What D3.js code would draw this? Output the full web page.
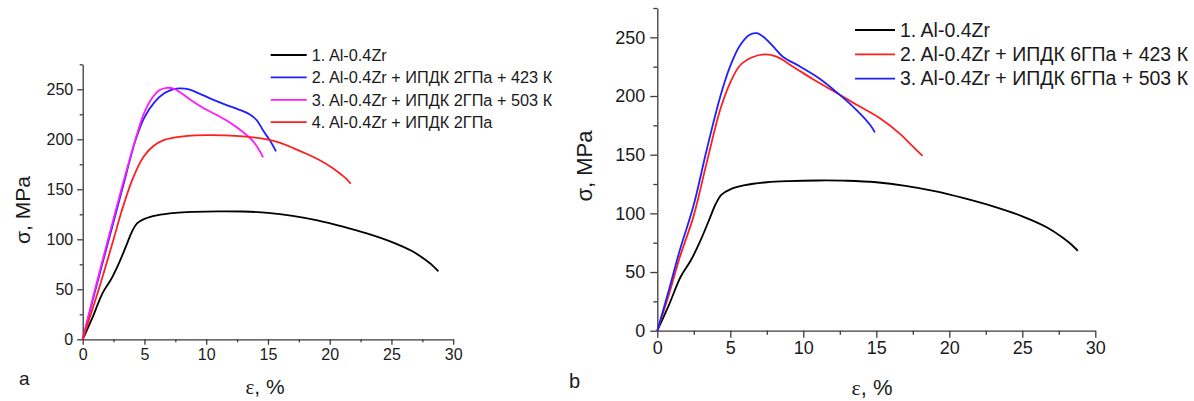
<!DOCTYPE html>
<html>
<head>
<meta charset="utf-8">
<script src="https://cdn.jsdelivr.net/npm/d3@7"></script>
<style>
  html, body { margin: 0; padding: 0; background: #fff; }
  svg { display: block; font-family: Arial, "Liberation Sans", sans-serif; }
</style>
</head>
<body>
<svg id="chart" width="1194" height="401"></svg>
<script>
// Stress–strain curves, ε (%) vs σ (MPa)

// Panel a
const aLabels = ["1. Al-0.4Zr", "2. Al-0.4Zr + ИПДК 2ГПа + 423 К", "3. Al-0.4Zr + ИПДК 2ГПа + 503 К", "4. Al-0.4Zr + ИПДК 2ГПа"];
const aBase = [[0,0],[0.8,22],[1.6,46],[2.3,60],[3.0,78],[3.6,96],[4.0,108],[4.4,116],[5.0,120.5],[6.0,124],[7.5,126.5],[9.0,127.5],[11.0,128],[13.0,127.8],[15.0,126.5],[17.0,123.5],[19.0,119],[21.0,113],[23.0,106],[25.0,97.5],[26.7,88],[27.8,79],[28.4,73],[28.8,68]];
const a423 = [[0,0],[1.0,48],[2.1,99],[3.2,150],[4.3,200],[5.0,222],[5.8,237],[6.6,246],[7.3,250],[7.9,251],[8.6,250],[9.4,246],[10.3,241],[11.5,235],[12.6,230],[13.5,225],[14.1,219],[14.6,209],[15.2,198],[15.65,188]];
const a503 = [[0,0],[1.0,50],[2.1,102],[3.2,153],[4.3,201],[4.9,224],[5.5,239],[6.2,249],[6.8,251.5],[7.4,250.5],[8.0,246],[8.9,238],[9.8,231],[10.9,224],[12.0,216],[13.0,207],[13.8,198],[14.3,189],[14.6,182]];
const aHpt = [[0,0],[1.3,50],[2.5,100],[3.2,130],[4.0,159],[4.9,182],[5.7,193],[6.5,199],[7.5,202],[8.5,203.5],[10.0,204.2],[11.5,204],[13.0,203],[14.9,200],[16.0,196.5],[17.1,191],[18.2,185],[19.2,179],[20.2,171.5],[20.9,165],[21.4,160],[21.7,155.5]];

// Panel b
const bLabels = ["1. Al-0.4Zr", "2. Al-0.4Zr + ИПДК 6ГПа + 423 К", "3. Al-0.4Zr + ИПДК 6ГПа + 503 К"];
const bBase = aBase;
const b423 = [[0,0],[0.8,31],[1.55,63],[2.47,97],[3.38,143],[4.3,188],[4.98,211],[5.66,226],[6.5,233],[7.37,235.5],[8.17,233.5],[9.3,225],[10.7,214],[12.5,201],[13.65,192.5],[15.25,181],[16.6,168],[17.5,157],[18.17,149]];
const b503 = [[0,0],[0.8,35],[1.55,69],[2.47,106],[3.38,154],[4.3,199],[4.98,225],[5.66,243],[6.3,252],[6.8,253.5],[7.26,250.5],[7.95,242],[8.6,233.5],[9.8,225],[11.1,215],[12.5,201],[13.65,188],[14.57,175.5],[14.9,169]];

const xTicks = [0, 5, 10, 15, 20, 25, 30];
const xMinor = [2.5, 7.5, 12.5, 17.5, 22.5, 27.5];
const yTicks = [0, 50, 100, 150, 200, 250];
const yMinor = [25, 75, 125, 175, 225, 275];
const yTitle = "σ, MPa";

const svg = d3.select("#chart");

function panel(opt) {
  const x = d3.scaleLinear().domain([0, 30]).range([opt.x0, opt.x1]);
  const y = d3.scaleLinear().domain([0, 275]).range([opt.y0, opt.y1]);
  const g = svg.append("g");
  const axisColor = "#3a3a3a";

  // minor ticks
  g.append("g").attr("transform", `translate(0,${opt.y0})`)
    .call(d3.axisBottom(x).tickValues(xMinor).tickSize(opt.minor).tickFormat(""))
    .call(s => s.select(".domain").remove());
  g.append("g").attr("transform", `translate(${opt.x0},0)`)
    .call(d3.axisLeft(y).tickValues(yMinor).tickSize(opt.minor).tickFormat(""))
    .call(s => s.select(".domain").remove());

  // major ticks and labels
  const xa = g.append("g").attr("transform", `translate(0,${opt.y0})`)
    .call(d3.axisBottom(x).tickValues(xTicks).tickSize(opt.major).tickSizeOuter(0).tickPadding(opt.xPad));
  const ya = g.append("g").attr("transform", `translate(${opt.x0},0)`)
    .call(d3.axisLeft(y).tickValues(yTicks).tickSize(opt.major).tickSizeOuter(0).tickPadding(opt.yPad));
  [xa, ya].forEach(a => {
    a.selectAll("text").attr("font-size", opt.fs).attr("fill", "#1a1a1a")
      .attr("font-family", "Arial, 'Liberation Sans', sans-serif");
  });
  g.selectAll(".domain, .tick line").attr("stroke", axisColor).attr("stroke-width", 1.3);

  // curves
  const line = d3.line().x(d => x(d[0])).y(d => y(d[1])).curve(d3.curveCatmullRom.alpha(0.5));
  opt.series.forEach(s => {
    g.append("path").datum(s.data).attr("d", line)
      .attr("fill", "none").attr("stroke", s.color).attr("stroke-width", 1.8)
      .attr("stroke-linejoin", "round");
  });

  // legend
  const lg = g.append("g");
  opt.series.forEach((s, i) => {
    const ly = opt.legY + i * opt.legDy;
    lg.append("line").attr("x1", opt.legX).attr("x2", opt.legX + opt.legLen)
      .attr("y1", ly).attr("y2", ly).attr("stroke", s.color).attr("stroke-width", 1.8);
    lg.append("text").attr("x", opt.legX + opt.legLen + 5).attr("y", ly).attr("dy", "0.35em")
      .attr("font-size", opt.legFs).attr("fill", "#1a1a1a").text(s.label);
  });

  // axis titles
  g.append("text").attr("x", opt.xtX).attr("y", opt.xtY).attr("text-anchor", "middle")
    .attr("font-size", opt.tfs).attr("fill", "#1a1a1a")
    .selectAll("tspan").data([["ε", "'Times New Roman', 'Liberation Serif', serif"], [", %", "Arial, 'Liberation Sans', sans-serif"]])
    .join("tspan").attr("font-family", d => d[1]).text(d => d[0]);
  g.append("text").attr("transform", `translate(${opt.ytX},${opt.ytY}) rotate(-90)`)
    .attr("text-anchor", "middle").attr("font-size", opt.tfs).attr("fill", "#1a1a1a")
    .text(yTitle);

  // panel letter
  g.append("text").attr("x", opt.letX).attr("y", opt.letY).attr("font-size", opt.letFs)
    .attr("fill", "#1a1a1a").text(opt.letter);
}

panel({
  x0: 82.7, x1: 453.2, y0: 339.3, y1: 64.3,
  major: 5.5, minor: 3, xPad: 4, yPad: 4, fs: 16,
  series: [
    { data: aBase, color: "#000000", label: aLabels[0] },
    { data: a423, color: "#1f1fff", label: aLabels[1] },
    { data: a503, color: "#ff1aff", label: aLabels[2] },
    { data: aHpt, color: "#ff1f1f", label: aLabels[3] }
  ],
  legX: 270.7, legLen: 36, legY: 55, legDy: 22.4, legFs: 16.3,
  xtX: 265, xtY: 394, ytX: 30, ytY: 210, tfs: 21,
  letter: "a", letX: 19, letY: 385, letFs: 19
});

panel({
  x0: 657.3, x1: 1095.3, y0: 330.7, y1: 8.0,
  major: 7, minor: 4, xPad: 4, yPad: 5, fs: 18,
  series: [
    { data: bBase, color: "#000000", label: bLabels[0] },
    { data: b423, color: "#ff1f1f", label: bLabels[1] },
    { data: b503, color: "#1f1fff", label: bLabels[2] }
  ],
  legX: 855, legLen: 40, legY: 30, legDy: 24.3, legFs: 19.5,
  xtX: 872, xtY: 395, ytX: 592, ytY: 166, tfs: 22,
  letter: "b", letX: 569, letY: 388, letFs: 20
});
</script>
</body>
</html>
